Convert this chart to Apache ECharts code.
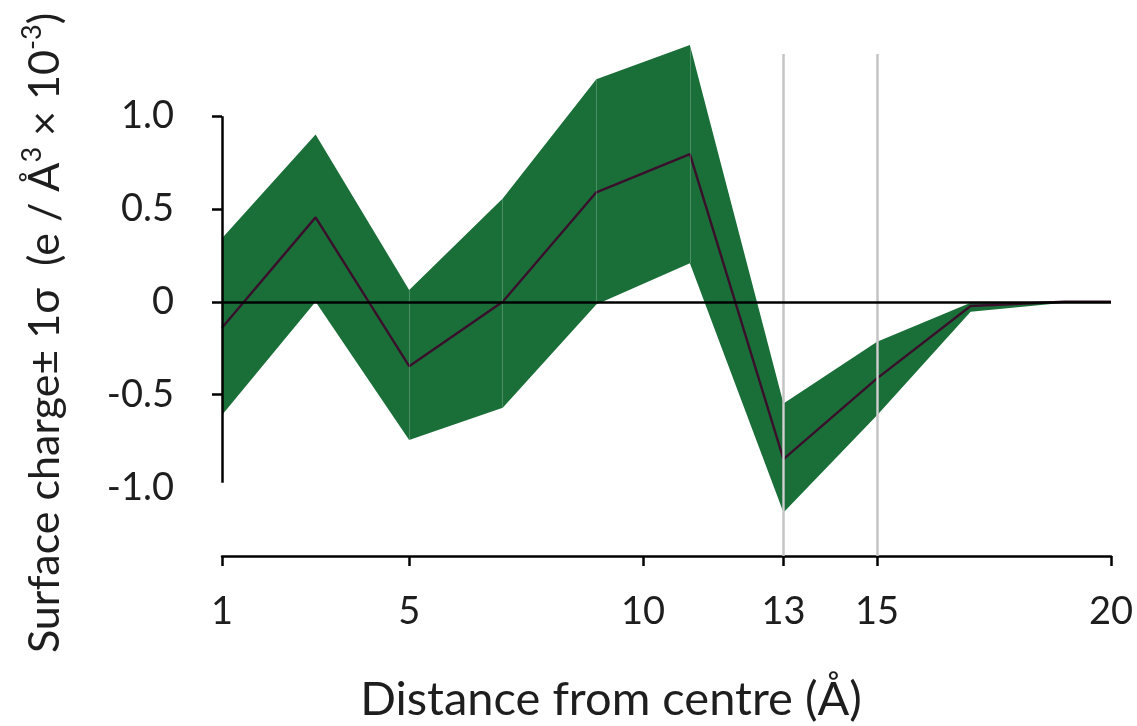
<!DOCTYPE html>
<html>
<head>
<meta charset="utf-8">
<script src="https://cdn.jsdelivr.net/npm/echarts@6/dist/echarts.min.js"></script>
<style>
  html, body { margin: 0; padding: 0; background: #ffffff; }
  #chart { width: 1137px; height: 726px; }
</style>
</head>
<body>
<div id="chart"></div>
<script>
// Radial surface charge profile (mean and ±1σ band), e / Å³ × 10⁻³
const distance    = [1, 3, 5, 7, 9, 11, 13, 15, 17, 19, 20];
const meanCharge  = [-0.14, 0.455, -0.347, 0.0, 0.59, 0.796, -0.848, -0.413, -0.023, 0.0, 0.0];
const upperCharge = [0.342, 0.902, 0.063, 0.557, 1.199, 1.384, -0.548, -0.216, -0.005, 0.0, 0.0];
const lowerCharge = [-0.61, 0.0, -0.745, -0.571, -0.014, 0.207, -1.135, -0.611, -0.054, -0.005, 0.0];

const xTickValues  = [1, 5, 10, 13, 15, 20];
const yLabelValues = [-1.0, -0.5, 0, 0.5, 1.0];
const yTickValues  = [-0.5, 0, 0.5, 1.0];
const markerDistances = [13, 15];
const seamDistances   = [5, 7, 9, 11, 13, 15];

const FONT = 'Lato';
const BAND = '#1a6f39';
const TEXT = '#1e1e1e';
const AXIS_LINE = { color: '#000', width: 2.5, type: 'solid' };

const pairs = (xs, ys) => xs.map((x, i) => [x, ys[i]]);

// ±1σ band as one polygon: upper edge left→right, lower edge right→left
function renderBand(params, api) {
  const upper = distance.map((d, i) => api.coord([d, upperCharge[i]]));
  const lower = distance.map((d, i) => api.coord([d, lowerCharge[i]])).reverse();
  return {
    type: 'polygon',
    shape: { points: upper.concat(lower) },
    style: { fill: BAND }
  };
}

const chart = echarts.init(document.getElementById('chart'), null, { renderer: 'canvas' });

chart.setOption({
  animation: false,
  backgroundColor: '#ffffff',
  grid: { left: 222, right: 26, top: 42, bottom: 170 },
  xAxis: {
    type: 'value',
    min: 1,
    max: 20,
    axisLine: { show: true, onZero: false, lineStyle: AXIS_LINE },
    axisTick: { show: true, customValues: xTickValues, length: 10, lineStyle: AXIS_LINE },
    axisLabel: {
      customValues: xTickValues,
      margin: 37,
      fontFamily: FONT, fontSize: 38, color: TEXT
    },
    splitLine: { show: false }
  },
  yAxis: {
    type: 'value',
    min: -1.37,
    max: 1.4,
    axisLine: { show: false },
    axisTick: { show: true, customValues: yTickValues, length: 10, lineStyle: AXIS_LINE },
    axisLabel: {
      customValues: yLabelValues,
      margin: 48,
      fontFamily: FONT, fontSize: 38, color: TEXT,
      formatter: v => (v === 0 ? '0' : v.toFixed(1))
    },
    splitLine: { show: false }
  },
  series: [
    {
      // reference lines at 13 Å and 15 Å
      name: 'markers',
      type: 'line',
      data: [],
      z: 1,
      markLine: {
        silent: true,
        symbol: 'none',
        label: { show: false },
        lineStyle: { color: '#c4c4c4', width: 2.5, type: 'solid' },
        data: markerDistances.map(d => [{ coord: [d, 1.335] }, { coord: [d, -1.37] }])
      }
    },
    {
      name: 'band',
      type: 'custom',
      renderItem: renderBand,
      data: [0],
      clip: false,
      z: 2
    },
    {
      // faint seams inside the band, the zero line and the vertical axis line
      name: 'frame',
      type: 'line',
      data: [],
      z: 3,
      markLine: {
        silent: true,
        symbol: 'none',
        label: { show: false },
        data: seamDistances.map(d => {
          const i = distance.indexOf(d);
          return [
            { coord: [d, upperCharge[i]], lineStyle: { color: 'rgba(255,255,255,0.22)', width: 1, type: 'solid' } },
            { coord: [d, lowerCharge[i]] }
          ];
        }).concat([
          [{ coord: [1, 0], lineStyle: AXIS_LINE }, { coord: [20, 0] }],
          [{ coord: [1, 1.0], lineStyle: AXIS_LINE }, { coord: [1, -0.975] }]
        ])
      }
    },
    {
      name: 'mean',
      type: 'line',
      data: pairs(distance, meanCharge),
      symbol: 'none',
      lineStyle: { color: '#3a0f2c', width: 2.4 },
      z: 4
    }
  ],
  graphic: [
    {
      type: 'text',
      x: 611,
      y: 700,
      style: {
        text: 'Distance from centre (Å)',
        align: 'center',
        verticalAlign: 'middle',
        fontFamily: FONT,
        fontSize: 47,
        fill: TEXT
      }
    },
    {
      type: 'text',
      x: 45,
      y: 333,
      rotation: Math.PI / 2,
      style: {
        text: '{a|Surface charge± 1σ  (e / Å}{s|3}{a| × 10}{s|-3}{a|)}',
        align: 'center',
        verticalAlign: 'middle',
        rich: {
          a: { fontFamily: FONT, fontSize: 43, lineHeight: 52, fill: TEXT, verticalAlign: 'middle' },
          s: { fontFamily: FONT, fontSize: 27, lineHeight: 30, fill: TEXT, verticalAlign: 'top' }
        }
      }
    }
  ]
});
</script>
</body>
</html>
